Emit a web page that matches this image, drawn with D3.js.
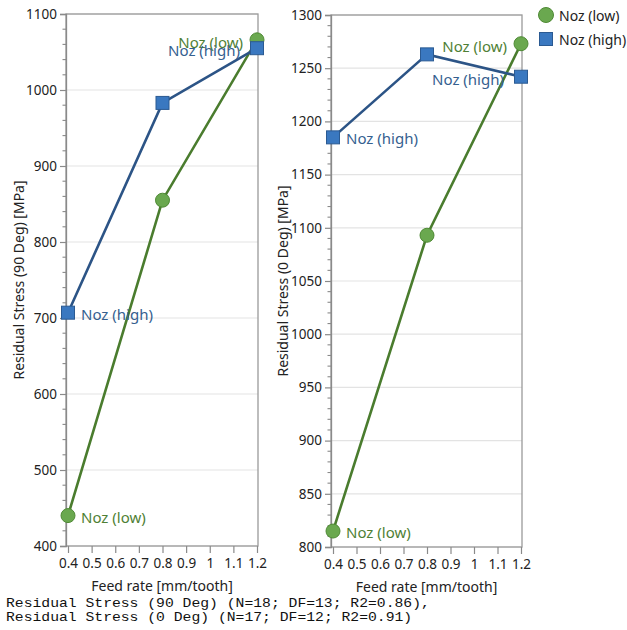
<!DOCTYPE html>
<html>
<head>
<meta charset="utf-8">
<script src="https://cdn.jsdelivr.net/npm/d3@7/dist/d3.min.js"></script>
<style>
  html, body { margin: 0; padding: 0; background: #fff; }
  svg { display: block; }
  text { font-family: "Noto Sans", "Open Sans", sans-serif; fill: #222; }
</style>
</head>
<body>
<svg id="chart" width="627" height="630"></svg>
<script>
// Feed rate levels (mm/tooth)
const feedRates = [0.4, 0.8, 1.2];
const xTickValues = [0.4, 0.5, 0.6, 0.7, 0.8, 0.9, 1.0, 1.1, 1.2];

// Residual stress, 90 degree direction [MPa]
const stress90Low  = [440, 855, 1066];
const stress90High = [707, 983, 1055];

// Residual stress, 0 degree direction [MPa]
const stress0Low  = [815, 1093, 1273];
const stress0High = [1185, 1263, 1242];

const seriesNames = ["Noz (low)", "Noz (high)"];

const yTicks90 = [400, 500, 600, 700, 800, 900, 1000, 1100];
const yTicks0  = [800, 850, 900, 950, 1000, 1050, 1100, 1150, 1200, 1250, 1300];

const footerLines = [
  "Residual Stress (90 Deg) (N=18; DF=13; R2=0.86),",
  "Residual Stress (0 Deg) (N=17; DF=12; R2=0.91)"
];

const colors = {
  low:  { fill: "#6aa84f", stroke: "#4f8a35", line: "#4a7c2e", text: "#4f7f35" },
  high: { fill: "#3a78c0", stroke: "#2b5a92", line: "#2c5486", text: "#35608f" }
};

const svg = d3.select("#chart");

function drawPanel(opt) {
  const x = d3.scaleLinear().domain([0.4, 1.2]).range([opt.x0 + 2, opt.x1 - 1]);
  const y = d3.scaleLinear().domain(opt.yDomain).range([opt.y1, opt.y0]);
  const g = svg.append("g");

  // horizontal grid at major ticks
  g.append("g").selectAll("line").data(opt.yTicks).join("line")
    .attr("x1", opt.x0).attr("x2", opt.x1)
    .attr("y1", d => y(d)).attr("y2", d => y(d))
    .attr("stroke", "#e3e3e3").attr("stroke-width", 1.2);

  // frame
  g.append("rect")
    .attr("x", opt.x0).attr("y", opt.y0)
    .attr("width", opt.x1 - opt.x0).attr("height", opt.y1 - opt.y0)
    .attr("fill", "none").attr("stroke", "#9a9a9a").attr("stroke-width", 1.3);

  // y axis: major ticks
  const yAxis = d3.axisLeft(y).tickValues(opt.yTicks).tickSize(6).tickPadding(3)
    .tickFormat(d3.format("d"));
  const ya = g.append("g").attr("transform", `translate(${opt.x0},0)`).call(yAxis);
  ya.select(".domain").attr("stroke", "#8a8a8a").attr("stroke-width", 1.3);
  ya.selectAll(".tick line").attr("stroke", "#8a8a8a").attr("stroke-width", 1.2);
  ya.selectAll(".tick text").style("font-size", "13.5px").style("font-family", "Noto Sans").attr("fill", "#222");

  // y axis: minor ticks
  const minor = d3.range(opt.yDomain[0], opt.yDomain[1] + 0.001, opt.minorStep)
    .filter(v => !opt.yTicks.includes(v));
  g.append("g").selectAll("line").data(minor).join("line")
    .attr("x1", opt.x0 - 3.5).attr("x2", opt.x0)
    .attr("y1", d => y(d)).attr("y2", d => y(d))
    .attr("stroke", "#8a8a8a").attr("stroke-width", 1.1);

  // x axis
  const xAxis = d3.axisBottom(x).tickValues(xTickValues).tickSize(7).tickPadding(5)
    .tickFormat(d => d3.format("")(+d.toFixed(1)));
  const xa = g.append("g").attr("transform", `translate(0,${opt.y1})`).call(xAxis);
  xa.select(".domain").remove();
  xa.selectAll(".tick line").attr("stroke", "#8a8a8a").attr("stroke-width", 1.2);
  xa.selectAll(".tick text").style("font-size", "13.5px").style("font-family", "Noto Sans").attr("fill", "#222");

  // axis titles
  g.append("text")
    .attr("x", (opt.x0 + opt.x1) / 2).attr("y", opt.y1 + 45)
    .attr("text-anchor", "middle").style("font-size", "14px")
    .text("Feed rate [mm/tooth]");
  g.append("text")
    .attr("transform", `translate(${opt.titleX},${(opt.y0 + opt.y1) / 2}) rotate(-90)`)
    .attr("text-anchor", "middle").attr("dominant-baseline", "central")
    .style("font-size", "14px")
    .text(opt.yTitle);

  const line = d3.line().x((d, i) => x(feedRates[i])).y(d => y(d));

  const series = [
    { key: "low", name: seriesNames[0], values: opt.low, shape: "circle" },
    { key: "high", name: seriesNames[1], values: opt.high, shape: "square" }
  ];

  series.forEach(s => {
    g.append("path").datum(s.values)
      .attr("d", line).attr("fill", "none")
      .attr("stroke", colors[s.key].line).attr("stroke-width", 2.6);
  });

  series.forEach(s => {
    const c = colors[s.key];
    const pts = g.append("g").selectAll("g").data(s.values).join("g")
      .attr("transform", (d, i) => `translate(${x(feedRates[i])},${y(d)})`);
    if (s.shape === "circle") {
      pts.append("circle").attr("r", 7)
        .attr("fill", c.fill).attr("stroke", c.stroke).attr("stroke-width", 1);
    } else {
      pts.append("rect").attr("x", -6.5).attr("y", -6.5).attr("width", 13).attr("height", 13)
        .attr("fill", c.fill).attr("stroke", c.stroke).attr("stroke-width", 1);
    }
  });

  // point labels at the first and last feed rate
  series.forEach(s => {
    const c = colors[s.key];
    const n = s.values.length;
    g.append("text")
      .attr("x", x(feedRates[0]) + 13).attr("y", y(s.values[0]) + 1)
      .attr("dominant-baseline", "central")
      .style("font-size", "15px").style("fill", c.text)
      .text(s.name);
    g.append("text")
      .attr("x", x(feedRates[n - 1]) - (s.shape === "square" ? 17 : 14))
      .attr("y", y(s.values[n - 1]) + 2)
      .attr("text-anchor", "end").attr("dominant-baseline", "central")
      .style("font-size", "15px").style("fill", c.text)
      .text(s.name);
  });
}

drawPanel({
  x0: 66, x1: 258, y0: 14, y1: 546,
  yDomain: [400, 1100], yTicks: yTicks90, minorStep: 20,
  titleX: 18, yTitle: "Residual Stress (90 Deg) [MPa]",
  low: stress90Low, high: stress90High
});

drawPanel({
  x0: 331, x1: 522, y0: 15, y1: 547,
  yDomain: [800, 1300], yTicks: yTicks0, minorStep: 10,
  titleX: 282, yTitle: "Residual Stress (0 Deg) [MPa]",
  low: stress0Low, high: stress0High
});

// legend
const legend = svg.append("g").attr("transform", "translate(546,0)");
seriesNames.forEach((name, i) => {
  const key = i === 0 ? "low" : "high";
  const cy = i === 0 ? 15 : 39;
  if (i === 0) {
    legend.append("circle").attr("cx", 0).attr("cy", cy).attr("r", 7.5)
      .attr("fill", colors[key].fill).attr("stroke", colors[key].stroke).attr("stroke-width", 1);
  } else {
    legend.append("rect").attr("x", -6.5).attr("y", cy - 6.5).attr("width", 13).attr("height", 13)
      .attr("fill", colors[key].fill).attr("stroke", colors[key].stroke).attr("stroke-width", 1);
  }
  legend.append("text").attr("x", 13).attr("y", cy)
    .attr("dominant-baseline", "central").style("font-size", "14px")
    .text(name);
});

// model summary
svg.append("g").selectAll("text").data(footerLines).join("text")
  .attr("x", 6).attr("y", (d, i) => 607 + i * 14)
  .attr("textLength", d => d.length * 8.83)
  .attr("lengthAdjust", "spacingAndGlyphs")
  .style("font-family", "'Liberation Mono', 'DejaVu Sans Mono', monospace")
  .style("font-size", "13px").style("fill", "#111")
  .text(d => d);
</script>
</body>
</html>
